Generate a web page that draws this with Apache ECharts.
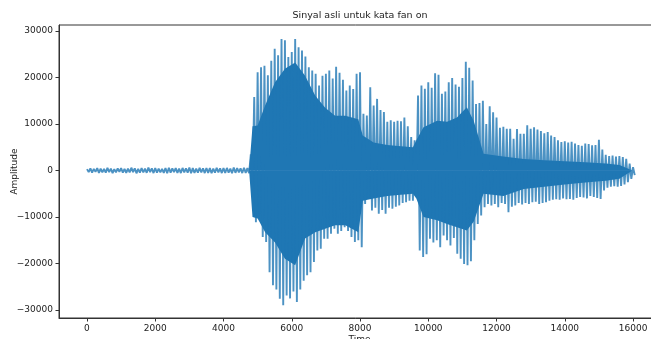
<!DOCTYPE html>
<html>
<head>
<meta charset="utf-8">
<script src="https://cdn.jsdelivr.net/npm/echarts@6/dist/echarts.min.js"></script>
<style>
  html, body { margin: 0; padding: 0; background: #fff; }
  #chart { width: 651px; height: 339px; }
</style>
</head>
<body>
<div id="chart"></div>
<script>
// sample step (in samples) of the envelope readings below
const STEP = 100

// max / min of the signal in each 100-sample bin
const upper = [
  300, 450, 350, 500, 400, 350, 550, 400, 300, 450,
  500, 350, 400, 600, 450, 350, 500, 400, 650, 450,
  500, 400, 350, 550, 600, 450, 500, 400, 550, 450,
  650, 500, 400, 600, 450, 550, 500, 400, 600, 450,
  500, 550, 400, 650, 500, 450, 600, 500, 3500, 15800,
  21100, 22200, 22500, 20500, 23600, 26200, 24800, 28300, 28000, 24400,
  25500, 28300, 26500, 25800, 24500, 22200, 21500, 20800, 18300, 20400,
  20800, 21500, 19800, 22300, 21000, 19500, 17200, 18300, 17500, 20800,
  21100, 12200, 11800, 17900, 14000, 15400, 13000, 12600, 10500, 10800,
  10500, 10700, 10600, 11400, 9500, 7200, 6500, 16100, 18300, 17600,
  19000, 17800, 20900, 20600, 16500, 17000, 19000, 19900, 18500, 18000,
  19900, 23400, 22100, 19350, 14300, 14500, 15000, 10000, 13800, 12500,
  11400, 9200, 9400, 9000, 9000, 6800, 8900, 7900, 7900, 9700,
  9000, 9300, 8800, 8500, 8000, 8300, 7500, 7200, 6500, 6100,
  6300, 6000, 6200, 5800, 5500, 5300, 5800, 5700, 5400, 5500,
  6600, 4500, 3400, 3100, 3200, 3000, 3100, 2900, 2500, 1500,
  700
]
const lower = [
  -350, -450, -300, -500, -400, -450, -350, -550, -400, -300,
  -450, -500, -400, -350, -600, -450, -400, -500, -350, -550,
  -450, -400, -500, -600, -450, -350, -500, -550, -400, -450,
  -600, -500, -450, -400, -550, -500, -600, -450, -400, -550,
  -500, -450, -600, -500, -400, -550, -500, -600, -4000, -11100,
  -9300, -14300, -15400, -21900, -24700, -25600, -27600, -29000, -26900, -27500,
  -26000, -28300, -25600, -23700, -22500, -21900, -19700, -17200, -16800, -14700,
  -14700, -13600, -12500, -13600, -13000, -12200, -13000, -14300, -15400, -15000,
  -16500, -7200, -6100, -8600, -8000, -9300, -8500, -9300, -8000, -8200,
  -7800, -7500, -7000, -6800, -6500, -6500, -5000, -17200, -18600, -18000,
  -14700, -15500, -15000, -16500, -14000, -15000, -16100, -14500, -17900, -19000,
  -20100, -20400, -19500, -15000, -11500, -9700, -7900, -7200, -7500, -7200,
  -7900, -7000, -7200, -9000, -7800, -7500, -7000, -7300, -7000, -7200,
  -6800, -6700, -7200, -7000, -6800, -6500, -6300, -6200, -6300, -6000,
  -6200, -6100, -6300, -5900, -5700, -5800, -6000, -5500, -5700, -5900,
  -6100, -4300, -3700, -3500, -3400, -3500, -3300, -3000, -2500, -1800,
  -1000
]

// dense dark core of the waveform (sample index, top, bottom)
const coreT = [
  4750, 4850, 5000, 5220, 5510, 5800, 6100, 6390, 6690, 6980,
  7270, 7570, 7950, 8080, 8400, 8800, 9200, 9550, 9650, 9860,
  10260, 10550, 10840, 11130, 11330, 11620, 12200, 12800, 13400, 14000,
  14600, 15200, 15600, 15980
]
const coreTop = [
  0, 9500, 9700, 14000, 19000, 21900, 23200, 20400, 16100, 13500,
  11800, 11800, 11000, 7500, 6000, 5500, 5200, 5000, 6500, 9300,
  10700, 10500, 11400, 13600, 10700, 3600, 3000, 2500, 2200, 2000,
  1800, 1500, 1200, 0
]
const coreBottom = [
  0, -10000, -10300, -13300, -15500, -19000, -20400, -14600, -13300, -12500,
  -11800, -11800, -13300, -6500, -6000, -5500, -5200, -5000, -6000, -10000,
  -10700, -11500, -12200, -12900, -11000, -5000, -5500, -4000, -3500, -3000,
  -2600, -2200, -1800, 0
]

const BLUE = '#1f77b4'

const wave = []
upper.forEach((v, i) => {
  wave.push([i * STEP, v])
  wave.push([i * STEP + STEP / 2, lower[i]])
})
const coreUp = coreTop.map((v, i) => [coreT[i], v])
const coreDown = coreBottom.map((v, i) => [coreT[i], v])

const fmt = v => (v < 0 ? '\u2212' + Math.abs(v) : String(v))

const chart = echarts.init(document.getElementById('chart'))

const axisText = { color: '#222', fontSize: 9, fontFamily: 'DejaVu Sans' }

chart.setOption({
  animation: false,
  backgroundColor: '#fff',
  graphic: [{
    type: 'text',
    x: 360,
    y: 16,
    style: {
      text: 'Sinyal asli untuk kata fan on',
      fill: '#222',
      font: '9.5px "DejaVu Sans"',
      textAlign: 'center',
      textVerticalAlign: 'middle'
    }
  }],
  grid: {
    left: 59,
    right: -9,
    top: 25,
    bottom: 21,
    outerBoundsMode: 'none',
    containLabel: false,
    show: true,
    borderColor: '#333',
    borderWidth: 1
  },
  xAxis: {
    type: 'value',
    min: -820,
    max: 16790,
    splitNumber: 8,
    name: 'Time',
    nameLocation: 'middle',
    nameGap: 17,
    nameMoveOverlap: false,
    nameTextStyle: axisText,
    axisLine: { show: true, onZero: false, lineStyle: { color: '#333' } },
    axisTick: { show: true, length: 3.5, lineStyle: { color: '#333' } },
    axisLabel: Object.assign({ margin: 6, showMinLabel: false, showMaxLabel: false, formatter: fmt }, axisText),
    splitLine: { show: false }
  },
  yAxis: {
    type: 'value',
    min: -31720,
    max: 31290,
    splitNumber: 6,
    name: 'Amplitude',
    nameLocation: 'middle',
    nameGap: 40,
    nameMoveOverlap: false,
    nameTextStyle: axisText,
    axisLine: { show: true, onZero: false, lineStyle: { color: '#333' } },
    axisTick: { show: true, length: 3.5, lineStyle: { color: '#333' } },
    axisLabel: Object.assign({ margin: 6, showMinLabel: false, showMaxLabel: false, formatter: fmt }, axisText),
    splitLine: { show: false }
  },
  series: [
    {
      type: 'line',
      data: coreUp,
      symbol: 'none',
      lineStyle: { width: 0 },
      areaStyle: { color: BLUE, opacity: 1, origin: 0 },
      z: 1
    },
    {
      type: 'line',
      data: coreDown,
      symbol: 'none',
      lineStyle: { width: 0 },
      areaStyle: { color: BLUE, opacity: 1, origin: 0 },
      z: 1
    },
    {
      type: 'line',
      data: wave,
      symbol: 'none',
      sampling: false,
      lineStyle: { color: BLUE, width: 1.9, opacity: 0.8 },
      z: 2
    }
  ]
})
</script>
</body>
</html>
